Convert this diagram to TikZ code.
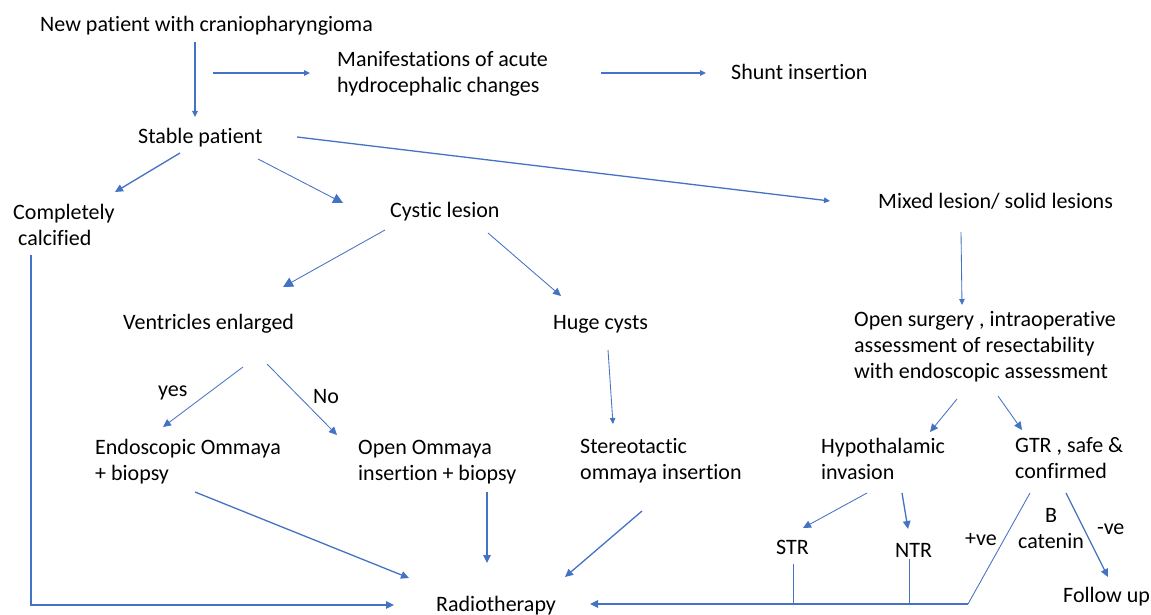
\documentclass[tikz,border=0pt]{standalone}
\usepackage{fontspec}
\setmainfont{Carlito}[Ligatures={NoCommon}]
\usetikzlibrary{arrows.meta,calc}
\newcommand\mlines[1]{\begin{tabular}[t]{@{}l@{}}#1\end{tabular}}
\newcommand\mlinesc[1]{\begin{tabular}[t]{@{}c@{}}#1\end{tabular}}
\definecolor{arrowblue}{HTML}{4472C4}
\begin{document}
\begin{tikzpicture}[x=1pt,y=-1pt,
  lbl/.style={inner sep=0pt, anchor=base west, font=\fontsize{22}{26}\selectfont, text=black},
  conn/.style={draw=arrowblue, line width=1.3pt},
  thinconn/.style={draw=arrowblue, line width=0.85pt},
  tipS/.style={-{Triangle[length=6pt,width=5.5pt]}},
  tipM/.style={-{Triangle[length=8pt,width=7.5pt]}},
  tipL/.style={-{Triangle[length=10pt,width=10pt]}}]
\fill[white] (0,0) rectangle (1151,615);
\useasboundingbox (0,0) rectangle (1151,615);

\node[lbl] (new) at (40,32) {New patient with craniopharyngioma};
\node[lbl] (man) at (337,67) {\mlines{Manifestations of acute\\hydrocephalic changes}};
\node[lbl] (shunt) at (731,80) {Shunt insertion};
\node[lbl] (stable) at (138,143) {Stable patient};
\node[lbl] (calc) at (13,219) {\mlines{Completely\\\hspace*{5pt}calcified}};
\node[lbl] (cystic) at (390,217) {Cystic lesion};
\node[lbl] (mixed) at (878,208) {Mixed lesion/ solid lesions};
\node[lbl] (vent) at (123,329) {Ventricles enlarged};
\node[lbl] (huge) at (553,329) {Huge cysts};
\node[lbl] (opens) at (854,326) {\mlines{Open surgery , intraoperative\\assessment of resectability\\with endoscopic assessment}};
\node[lbl] (yes) at (158,396) {yes};
\node[lbl] (no) at (313,403) {No};
\node[lbl] (endo) at (95,454) {\mlines{Endoscopic Ommaya\\+ biopsy}};
\node[lbl] (openom) at (358,454) {\mlines{Open Ommaya\\insertion + biopsy}};
\node[lbl] (stereo) at (580,453) {\mlines{Stereotactic\\ommaya insertion}};
\node[lbl] (hypo) at (821,453) {\mlines{Hypothalamic\\invasion}};
\node[lbl] (gtr) at (1015,452) {\mlines{GTR , safe \&\\confirmed}};
\node[lbl] (str) at (776,554) {STR};
\node[lbl] (ntr) at (895,557) {NTR};
\node[lbl] (pve) at (965,545) {+ve};
\node[lbl, anchor=base] (bcat) at (1051,522) {\mlinesc{B\\catenin}};
\node[lbl] (mve) at (1097,534) {-ve};
\node[lbl] (follow) at (1063,602) {Follow up};
\node[lbl] (radio) at (436,611) {Radiotherapy};

\draw[conn,tipS] ($(new.base west)+(155,10)$) -- ($(stable.base west)+(57,-26)$);
\draw[conn,tipS] ($(new.base west)+(173,41)$) -- ($(man.base west)+(-27,6)$);
\draw[conn,tipS] ($(man.base west)+(264,6)$) -- ($(shunt.base west)+(-25,-7)$);
\draw[conn,tipM] ($(stable.base west)+(42,10)$) -- ($(calc.base west)+(102,-27)$);
\draw[thinconn,tipL] ($(stable.base west)+(120,16)$) -- ($(cystic.base west)+(-47,-14)$);
\draw[conn,tipS] ($(stable.base west)+(159,-6)$) -- ($(mixed.base west)+(-48,-7)$);
\draw[thinconn,tipL] ($(cystic.base west)+(-5,13)$) -- ($(vent.base west)+(160,-42)$);
\draw[thinconn,tipM] ($(cystic.base west)+(98,16)$) -- ($(huge.base west)+(8,-33)$);
\draw[thinconn,tipS] ($(mixed.base west)+(83,24)$) -- ($(opens.base west)+(108,-21)$);
\draw[thinconn,tipM] ($(vent.base west)+(120,38)$) -- ($(endo.base west)+(68,-27)$);
\draw[thinconn,tipM] ($(vent.base west)+(144,35)$) -- ($(openom.base west)+(-21,-19)$);
\draw[thinconn,tipS] ($(huge.base west)+(55,21)$) -- ($(stereo.base west)+(33,-29)$);
\draw[conn,tipM] ($(endo.base west)+(100,38)$) -- ($(radio.base west)+(-27,-33)$);
\draw[conn,tipM] ($(openom.base west)+(129,38)$) -- ($(radio.base west)+(51,-48)$);
\draw[conn,tipM] ($(stereo.base west)+(62,58)$) -- ($(radio.base west)+(129,-34)$);
\draw[conn,tipM] ($(calc.base west)+(18,36)$) |- ($(radio.base west)+(-42,-6)$);
\draw[thinconn,tipM] ($(opens.base west)+(103,73)$) -- ($(hypo.base west)+(109,-21)$);
\draw[thinconn,tipM] ($(opens.base west)+(144,70)$) -- ($(gtr.base west)+(7,-22)$);
\draw[thinconn,tipM] ($(hypo.base west)+(46,40)$) -- ($(str.base west)+(27,-26)$);
\draw[conn,tipM] ($(hypo.base west)+(81,40)$) -- ($(ntr.base west)+(13,-28)$);
\draw[conn,tipM] ($(gtr.base west)+(51,41)$) -- ($(follow.base west)+(45,-25)$);
\coordinate (join) at (968,604);
\draw[thinconn] ($(gtr.base west)+(15,41)$) -- (join);
\draw[thinconn] ($(str.base west)+(17,10)$) |- (join);
\draw[thinconn] ($(ntr.base west)+(14,2)$) |- (join);
\draw[conn,tipM] (join) -- ($(radio.base west)+(154,-7)$);
\end{tikzpicture}
\end{document}
